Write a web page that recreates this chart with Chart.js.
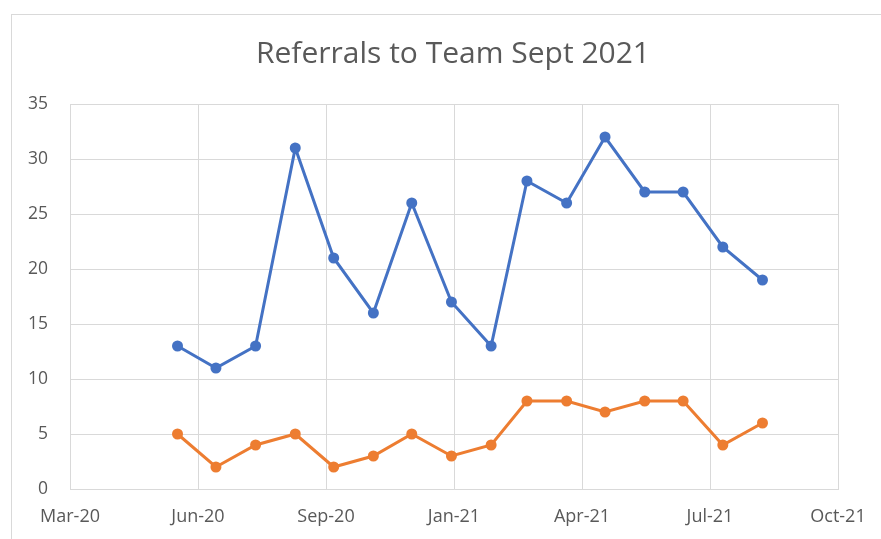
<!DOCTYPE html>
<html>
<head>
<meta charset="utf-8">
<script src="https://cdn.jsdelivr.net/npm/chart.js@4/dist/chart.umd.min.js"></script>
<style>
    html, body { margin: 0; padding: 0; background: #ffffff; }
    .wrap { position: relative; width: 881px; height: 539px; overflow: hidden; }
    .frame { position: absolute; left: 11px; top: 14px; width: 900px; height: 560px; border: 1px solid #d9d9d9; box-sizing: border-box; }
    canvas { position: absolute; left: 0; top: 0; }
</style>
</head>
<body>
<div class="wrap">
    <div class="frame"></div>
    <canvas id="chart" width="881" height="539"></canvas>
</div>
<script>
// monthly points, first of month
const months = ['2020-06-01', '2020-07-01', '2020-08-01', '2020-09-01', '2020-10-01', '2020-11-01',
    '2020-12-01', '2021-01-01', '2021-02-01', '2021-03-01', '2021-04-01', '2021-05-01',
    '2021-06-01', '2021-07-01', '2021-08-01', '2021-09-01'];
const seriesBlue = [13, 11, 13, 31, 21, 16, 26, 17, 13, 28, 26, 32, 27, 27, 22, 19];
const seriesOrange = [5, 2, 4, 5, 2, 3, 5, 3, 4, 8, 8, 7, 8, 8, 4, 6];

// excel date axis: starts 2020-03-09, major unit 100 days
const axisStart = '2020-03-09';
const axisStepDays = 100;
const xTickLabels = ['Mar-20', 'Jun-20', 'Sep-20', 'Jan-21', 'Apr-21', 'Jul-21', 'Oct-21'];
const yTicks = [0, 5, 10, 15, 20, 25, 30, 35];
const titleText = 'Referrals to Team Sept 2021';

const toDay = s => Date.parse(s) / 86400000;
const day0 = toDay(axisStart);
const xTickValues = xTickLabels.map((_, i) => day0 + i * axisStepDays);

const pts = vals => vals.map((v, i) => ({ x: toDay(months[i]), y: v }));

const txt = '#595959';
const grid = '#d9d9d9';
const font = "'Open Sans', sans-serif";

// title is centred over the whole chart frame, not over the plot area
const frameTitle = {
    id: 'frameTitle',
    afterDraw(chart) {
        const ctx = chart.ctx;
        ctx.save();
        ctx.fillStyle = txt;
        ctx.font = `30px ${font}`;
        ctx.textAlign = 'center';
        ctx.textBaseline = 'middle';
        ctx.fillText(titleText, 453, 54);
        ctx.restore();
    }
};

new Chart(document.getElementById('chart').getContext('2d'), {
    type: 'line',
    data: {
        datasets: [
            {
                label: 'Referrals',
                data: pts(seriesBlue),
                borderColor: '#4472C4',
                backgroundColor: '#4472C4',
                borderWidth: 3,
                pointRadius: 5.5,
                pointBorderWidth: 0,
                tension: 0
            },
            {
                label: 'Other',
                data: pts(seriesOrange),
                borderColor: '#ED7D31',
                backgroundColor: '#ED7D31',
                borderWidth: 3,
                pointRadius: 5.5,
                pointBorderWidth: 0,
                tension: 0
            }
        ]
    },
    options: {
        responsive: false,
        animation: false,
        layout: { padding: { left: 0, right: 43, top: 104, bottom: 0 } },
        plugins: {
            legend: { display: false },
            tooltip: { enabled: false },
            title: { display: false }
        },
        scales: {
            x: {
                type: 'linear',
                min: xTickValues[0],
                max: xTickValues[xTickValues.length - 1],
                afterBuildTicks: s => { s.ticks = xTickValues.map(v => ({ value: v })); },
                afterFit: s => { s.height = 50; s.paddingLeft = 0; s.paddingRight = 0; },
                grid: { color: grid, lineWidth: 1, drawTicks: false },
                border: { color: grid, width: 1 },
                ticks: {
                    color: txt,
                    font: { family: font, size: 18 },
                    padding: 17,
                    maxRotation: 0,
                    callback: (v, i) => xTickLabels[i]
                }
            },
            y: {
                min: 0,
                max: 35,
                afterBuildTicks: s => { s.ticks = yTicks.map(v => ({ value: v })); },
                afterFit: s => { s.width = 70; s.paddingTop = 0; s.paddingBottom = 0; },
                grid: { color: grid, lineWidth: 1, drawTicks: false },
                border: { color: grid, width: 1 },
                ticks: {
                    color: txt,
                    font: { family: font, size: 17.5 },
                    padding: 22
                }
            }
        }
    },
    plugins: [frameTitle]
});
</script>
</body>
</html>
